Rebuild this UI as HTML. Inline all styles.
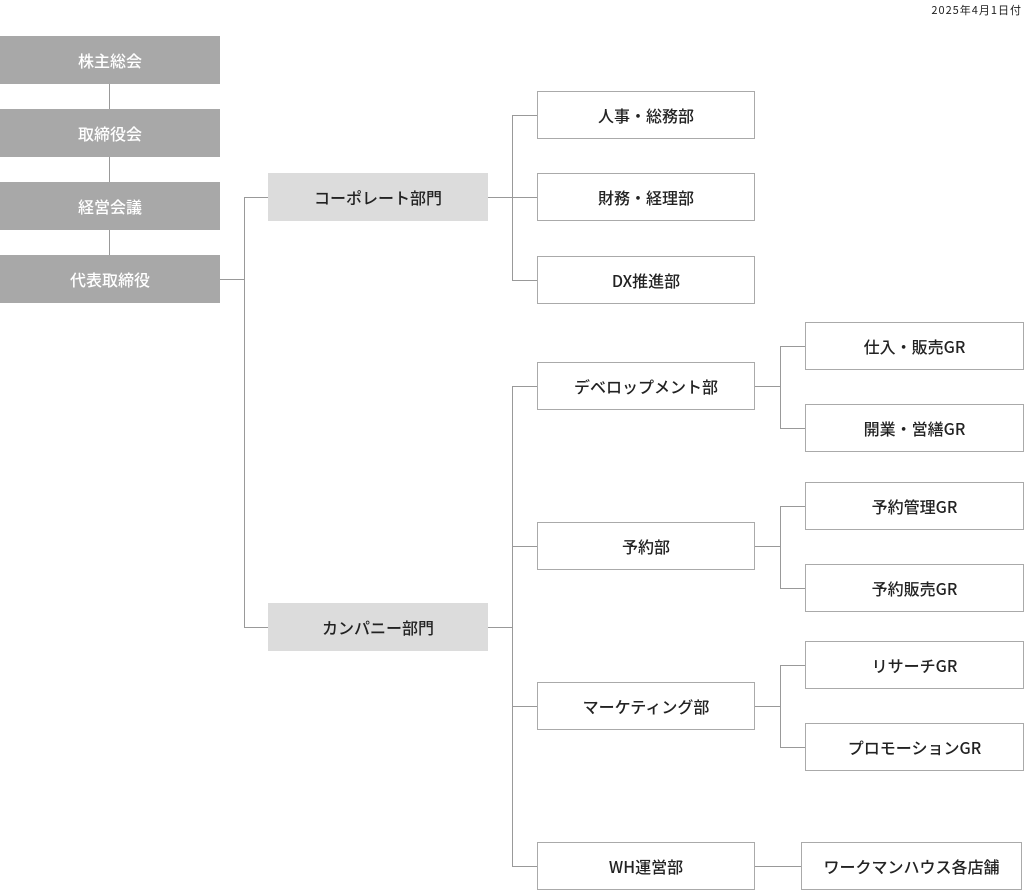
<!DOCTYPE html>
<html><head><meta charset="utf-8"><style>
html,body{margin:0;padding:0;background:#fff;}
body{width:1024px;height:891px;position:relative;overflow:hidden;font-family:"Noto Sans CJK JP","Liberation Sans",sans-serif;}
.b{position:absolute;box-sizing:border-box;display:flex;align-items:center;justify-content:center;font-size:16px;color:#222;font-weight:500;}
.g{background:#a8a8a8;color:#fff;width:220px;height:48px;left:0;}
.l{background:#dcdcdc;width:220px;height:48px;left:268px;}
.w{background:#fff;border:1px solid #aaa;height:48px;}
.d{left:537px;width:218px;}
.r{left:805px;width:219px;}
.h{position:absolute;background:#999;height:1px;}
.v{position:absolute;background:#999;width:1px;}
.date{position:absolute;right:2px;top:2px;font-size:11px;color:#222;letter-spacing:1px;}
</style></head><body>
<div class="date">2025年4月1日付</div>
<div class="v" style="left:109px;top:84px;height:171px"></div>
<div class="b g" style="top:36px">株主総会</div>
<div class="b g" style="top:109px">取締役会</div>
<div class="b g" style="top:182px">経営会議</div>
<div class="b g" style="top:255px">代表取締役</div>
<div class="h" style="left:220px;top:279px;width:24px"></div>
<div class="v" style="left:244px;top:197px;height:431px"></div>
<div class="h" style="left:244px;top:197px;width:24px"></div>
<div class="h" style="left:244px;top:627px;width:24px"></div>
<div class="b l" style="top:173px">コーポレート部門</div>
<div class="b l" style="top:603px">カンパニー部門</div>
<div class="h" style="left:488px;top:197px;width:49px"></div>
<div class="v" style="left:512px;top:115px;height:165px"></div>
<div class="h" style="left:512px;top:115px;width:25px"></div>
<div class="h" style="left:512px;top:280px;width:25px"></div>
<div class="b w d" style="top:91px">人事・総務部</div>
<div class="b w d" style="top:173px">財務・経理部</div>
<div class="b w d" style="top:256px">DX推進部</div>
<div class="h" style="left:488px;top:627px;width:24px"></div>
<div class="v" style="left:512px;top:386px;height:480px"></div>
<div class="h" style="left:512px;top:386px;width:25px"></div>
<div class="h" style="left:512px;top:546px;width:25px"></div>
<div class="h" style="left:512px;top:706px;width:25px"></div>
<div class="h" style="left:512px;top:866px;width:25px"></div>
<div class="b w d" style="top:362px">デベロップメント部</div>
<div class="b w d" style="top:522px">予約部</div>
<div class="b w d" style="top:682px">マーケティング部</div>
<div class="b w d" style="top:842px">WH運営部</div>
<div class="h" style="left:755px;top:386px;width:25px"></div>
<div class="v" style="left:780px;top:346px;height:82px"></div>
<div class="h" style="left:780px;top:346px;width:25px"></div>
<div class="h" style="left:780px;top:428px;width:25px"></div>
<div class="h" style="left:755px;top:546px;width:25px"></div>
<div class="v" style="left:780px;top:506px;height:82px"></div>
<div class="h" style="left:780px;top:506px;width:25px"></div>
<div class="h" style="left:780px;top:588px;width:25px"></div>
<div class="h" style="left:755px;top:706px;width:25px"></div>
<div class="v" style="left:780px;top:665px;height:82px"></div>
<div class="h" style="left:780px;top:665px;width:25px"></div>
<div class="h" style="left:780px;top:747px;width:25px"></div>
<div class="h" style="left:755px;top:866px;width:46px"></div>
<div class="b w r" style="top:322px">仕入・販売GR</div>
<div class="b w r" style="top:404px">開業・営繕GR</div>
<div class="b w r" style="top:482px">予約管理GR</div>
<div class="b w r" style="top:564px">予約販売GR</div>
<div class="b w r" style="top:641px">リサーチGR</div>
<div class="b w r" style="top:723px">プロモーションGR</div>
<div class="b w" style="left:801px;width:221px;top:842px">ワークマンハウス各店舗</div>
</body></html>
